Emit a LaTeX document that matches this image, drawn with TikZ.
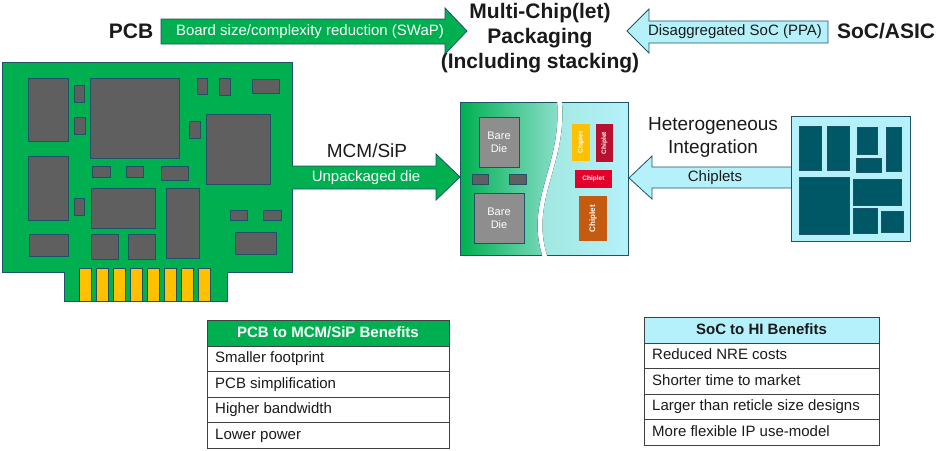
\documentclass[tikz,border=0pt]{standalone}
\usepackage{fontspec}
\setmainfont{Liberation Sans}
\definecolor{pgreen}{HTML}{00B050}
\definecolor{edge}{HTML}{1F5266}
\definecolor{pcyan}{HTML}{B5F1FA}
\definecolor{chipgray}{HTML}{5F5F5F}
\definecolor{socdark}{HTML}{005765}
\definecolor{gold}{HTML}{FFC000}
\definecolor{diegray}{HTML}{8E8E8E}
\definecolor{cdred}{HTML}{B8102E}
\definecolor{cred}{HTML}{E3002B}
\definecolor{corange}{HTML}{C55A11}
\definecolor{tline}{HTML}{404040}
\definecolor{txt}{HTML}{1A1A1A}
\definecolor{lgreen}{HTML}{8FE0D0}
\definecolor{lteal}{HTML}{9EE6DC}
\begin{document}
\begin{tikzpicture}[x=1pt,y=-1pt,line join=miter,
  fs/.style={font=\fontsize{15}{17}\selectfont},
  bigt/.style={font=\fontsize{21}{25}\selectfont\bfseries},
  midt/.style={font=\fontsize{19}{23}\selectfont},
  chip/.style={fill=chipgray,draw=edge,line width=0.8pt},
  soccell/.style={fill=socdark,draw=edge,line width=0.6pt},
  garrow/.style={fill=pgreen,draw=edge,line width=0.8pt},
  carrow/.style={fill=pcyan,draw=edge,line width=0.8pt},
  cellbox/.style={draw=tline,line width=0.8pt,outer sep=0pt,inner sep=0pt,anchor=north west,minimum width=#1,minimum height=25.5},
  hdrbox/.style={cellbox=#1,minimum height=26},
  celltxt/.style={anchor=west,inner sep=0pt,text height=11,text depth=3,text=txt,fs},
  hdrtxt/.style={inner sep=0pt,text height=11,text depth=3,font=\fontsize{15}{17}\selectfont\bfseries},
  dietxt/.style={text=white,align=center,font=\fontsize{11}{13}\selectfont},
  chiptxt/.style={text=white,font=\fontsize{6.5}{7}\selectfont\bfseries,inner sep=0}
]
\useasboundingbox (0,0) rectangle (936,450);
\fill[white] (0,0) rectangle (936,450);

% ---------- top row ----------
\node[bigt,text=txt] (pcb) at (131,31) {PCB};
\node[bigt,text=txt] (soc) at (886,31) {SoC/ASIC};
\node[bigt,text=txt,align=center] (title) at (540,38) {Multi-Chip(let)\\Packaging\\(Including stacking)};
\draw[garrow] (161,19) -- (445,19) -- (445,8) -- (467,31) -- (445,54) -- (445,44) -- (161,44) -- cycle;
\node[fs,text=white] (swap) at (310,32) {Board size/complexity reduction (SWaP)};
\draw[carrow] (828,21) -- (649,21) -- (649,9) -- (627,31) -- (649,53) -- (649,43) -- (828,43) -- cycle;
\node[fs,text=txt] (ppa) at (735,32) {Disaggregated SoC (PPA)};

% ---------- PCB board ----------
\draw[fill=pgreen,draw=edge,line width=0.9pt] (2,62) -- (292,62) -- (292,272) -- (227,272) -- (227,301) -- (64,301) -- (64,272) -- (2,272) -- cycle;
\coordinate (boardE) at (292,177);
\foreach \x in {79,96,113,130,147,164,181,198}
  \draw[fill=gold,draw=edge,line width=0.7pt] (\x,268) rectangle ++(12,33);
\draw[chip] (28,78) rectangle (68,141);
\draw[chip] (74,85) rectangle (84,102);
\draw[chip] (74,117) rectangle (85,134);
\draw[chip] (90,78) rectangle (179,158);
\draw[chip] (197,78) rectangle (207,94);
\draw[chip] (219,78) rectangle (230,95);
\draw[chip] (252,79) rectangle (279,93);
\draw[chip] (189,121) rectangle (200,138);
\draw[chip] (206,114) rectangle (270,184);
\draw[chip] (28,156) rectangle (68,220);
\draw[chip] (92,166) rectangle (110,177);
\draw[chip] (126,166) rectangle (143,177);
\draw[chip] (161,166) rectangle (188,180);
\draw[chip] (74,198) rectangle (84,215);
\draw[chip] (91,188) rectangle (155,228);
\draw[chip] (166,188) rectangle (199,258);
\draw[chip] (230,210) rectangle (247,220);
\draw[chip] (263,210) rectangle (281,220);
\draw[chip] (29,234) rectangle (68,256);
\draw[chip] (91,234) rectangle (118,259);
\draw[chip] (128,234) rectangle (155,259);
\draw[chip] (235,232) rectangle (276,254);

% ---------- MCM arrow ----------
\coordinate (pkgW) at (460,177);
\draw[garrow] (boardE |- 0,166) -- (436,166) -- (436,154) -- (pkgW) -- (436,200) -- (436,189) -- (boardE |- 0,189);
\node[midt,text=txt] (mcm) at (367,151) {MCM/SiP};
\node[fs,text=white] (unp) at (366,178) {Unpackaged die};

% ---------- package ----------
\fill[left color=pgreen,right color=lgreen] (460,102) -- (557,102) .. controls (562,165) and (525,200) .. (542,255) -- (460,255) -- cycle;
\draw[edge,line width=0.9pt] (557,102) -- (460,102) -- (460,255) -- (542,255);
\fill[left color=lteal,right color=pcyan] (562,102) -- (628,102) -- (628,255) -- (547,255) .. controls (530,200) and (567,165) .. (562,102) -- cycle;
\draw[edge,line width=0.9pt] (562,102) -- (628,102) -- (628,255) -- (547,255);
\coordinate (pkgE) at (628,178);

\draw[fill=diegray,draw=edge,line width=0.8pt] (479,117) rectangle (519,167);
\node[dietxt] (die1) at (499,142) {Bare\\Die};
\draw[fill=diegray,draw=edge,line width=0.8pt] (474,193) rectangle (524,243);
\node[dietxt] (die2) at (499,218) {Bare\\Die};
\draw[chip] (472,174) rectangle (488,184);
\draw[chip] (509,174) rectangle (526,184);

\fill[gold] (572,124) rectangle (590,161);
\node[chiptxt,rotate=90] (c1) at (581,142.5) {Chiplet};
\fill[cdred] (596,124) rectangle (613,162);
\node[chiptxt,rotate=90] (c2) at (604.5,143) {Chiplet};
\fill[cred] (575,170) rectangle (612,188);
\node[chiptxt] (c3) at (593.5,179) {Chiplet};
\fill[corange] (579,196) rectangle (607,241);
\node[chiptxt,rotate=90,font=\fontsize{8}{9}\selectfont\bfseries] (c4) at (593,218.5) {Chiplet};

% ---------- HI arrow ----------
\coordinate (socW) at (791,178);
\draw[carrow] (socW |- 0,167) -- (652,167) -- (652,156) -- (629,178) -- (652,199) -- (652,188) -- (socW |- 0,188);
\node[midt,text=txt,align=center] (hi) at (713,137) {Heterogeneous\\Integration};
\node[fs,text=txt] (chips) at (715,178) {Chiplets};

% ---------- SoC die ----------
\draw[fill=pcyan,draw=edge,line width=0.9pt] (791,116) rectangle (910,241);
\draw[soccell] (799,126) rectangle (821,170);
\draw[soccell] (827,126) rectangle (849,170);
\draw[soccell] (857,127) rectangle (877,154);
\draw[soccell] (856,158) rectangle (881,172);
\draw[soccell] (886,127) rectangle (901,171);
\draw[soccell] (799,177) rectangle (849,234);
\draw[soccell] (853,179) rectangle (901,205);
\draw[soccell] (853,208) rectangle (877,233);
\draw[soccell] (881,211) rectangle (903,232);

% ---------- tables ----------
\node[hdrbox=242,fill=pgreen] (L0) at (207,320) {};
\node[hdrtxt,text=white] (L0t) at (L0.center) {PCB to MCM/SiP Benefits};
\node[cellbox=242] (L1) at (L0.south west) {};
\node[cellbox=242] (L2) at (L1.south west) {};
\node[cellbox=242] (L3) at (L2.south west) {};
\node[cellbox=242] (L4) at (L3.south west) {};
\node[celltxt] (L1t) at ([xshift=8pt]L1.west) {Smaller footprint};
\node[celltxt] (L2t) at ([xshift=8pt]L2.west) {PCB simplification};
\node[celltxt] (L3t) at ([xshift=8pt]L3.west) {Higher bandwidth};
\node[celltxt] (L4t) at ([xshift=8pt]L4.west) {Lower power};

\node[hdrbox=235,fill=pcyan] (R0) at (644,317) {};
\node[hdrtxt,text=txt] (R0t) at (R0.center) {SoC to HI Benefits};
\node[cellbox=235] (R1) at (R0.south west) {};
\node[cellbox=235] (R2) at (R1.south west) {};
\node[cellbox=235] (R3) at (R2.south west) {};
\node[cellbox=235] (R4) at (R3.south west) {};
\node[celltxt] (R1t) at ([xshift=8pt]R1.west) {Reduced NRE costs};
\node[celltxt] (R2t) at ([xshift=8pt]R2.west) {Shorter time to market};
\node[celltxt] (R3t) at ([xshift=8pt]R3.west) {Larger than reticle size designs};
\node[celltxt] (R4t) at ([xshift=8pt]R4.west) {More flexible IP use-model};
\end{tikzpicture}
\end{document}
